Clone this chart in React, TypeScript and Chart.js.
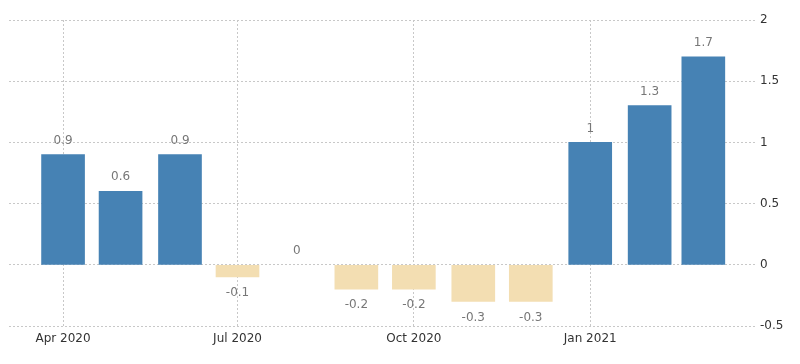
import React, { useEffect, useRef } from "react";
import { Chart, registerables } from "chart.js";

Chart.register(...registerables);

const months = ["2020-04", "2020-05", "2020-06", "2020-07", "2020-08", "2020-09", "2020-10", "2020-11", "2020-12", "2021-01", "2021-02", "2021-03"];
const values = [0.9, 0.6, 0.9, -0.1, 0, -0.2, -0.2, -0.3, -0.3, 1, 1.3, 1.7];
const tickMonths = ["2020-04", "2020-07", "2020-10", "2021-01"];
const tickLabels = ["Apr 2020", "Jul 2020", "Oct 2020", "Jan 2021"];
const yTicks = [-0.5, 0, 0.5, 1, 1.5, 2];

const BASE = Date.UTC(2020, 3, 1);
const dayOf = (m: string) => {
  const [y, mo] = m.split("-").map(Number);
  return (Date.UTC(y, mo - 1, 1) - BASE) / 86400000;
};

const POS = "#4682b4";
const NEG = "#f3deb2";

const labelPlugin = {
  id: "valueLabels",
  afterDatasetsDraw(chart: any) {
    const ctx = chart.ctx;
    const meta = chart.getDatasetMeta(0);
    ctx.save();
    ctx.font = "12px 'DejaVu Sans'";
    ctx.fillStyle = "#777777";
    ctx.textAlign = "center";
    meta.data.forEach((bar: any, i: number) => {
      const v = values[i];
      const label = String(v);
      if (v >= 0) {
        ctx.textBaseline = "bottom";
        ctx.fillText(label, bar.x, bar.y - 8);
      } else {
        ctx.textBaseline = "top";
        ctx.fillText(label, bar.x, bar.y + 10);
      }
    });
    ctx.restore();
  },
};

export default function App() {
  const ref = useRef<HTMLCanvasElement>(null);
  useEffect(() => {
    if (!ref.current) return;
    const data = months.map((m, i) => ({ x: dayOf(m), y: values[i] }));
    const tickDays = tickMonths.map(dayOf);
    const chart = new Chart(ref.current, {
      type: "bar",
      data: {
        datasets: [
          {
            data,
            backgroundColor: values.map((v) => (v > 0 ? POS : v < 0 ? NEG : "rgba(0,0,0,0)")),
            borderWidth: 0,
            barThickness: 43,
          },
        ],
      },
      options: {
        animation: false,
        responsive: false,
        maintainAspectRatio: false,
        layout: { padding: { left: 9, top: 20, right: 0, bottom: 0 } },
        plugins: { legend: { display: false }, tooltip: { enabled: false } },
        scales: {
          x: {
            type: "linear",
            offset: false,
            min: -28.2,
            max: 362,
            afterBuildTicks: (scale: any) => {
              scale.ticks = tickDays.map((v) => ({ value: v }));
            },
            afterFit: (scale: any) => {
              scale.height = 38;
            },
            ticks: {
              autoSkip: false,
              maxRotation: 0,
              padding: 6,
              color: "#333333",
              font: { family: "'DejaVu Sans'", size: 12 },
              callback: (_v: any, i: number) => tickLabels[i],
            },
            grid: { color: "#c8c8c8", drawTicks: false, offset: false },
            border: { display: false, dash: [2, 2] },
          },
          y: {
            position: "right",
            min: -0.5,
            max: 2,
            afterBuildTicks: (scale: any) => {
              scale.ticks = yTicks.map((v) => ({ value: v }));
            },
            afterFit: (scale: any) => {
              scale.width = 43;
            },
            ticks: {
              padding: 3,
              color: "#333333",
              font: { family: "'DejaVu Sans'", size: 12 },
              callback: (v: any) => String(v),
            },
            grid: { color: "#c8c8c8", drawTicks: false },
            border: { display: false, dash: [2, 2] },
          },
        },
      },
      plugins: [labelPlugin],
    });
    return () => chart.destroy();
  }, []);
  return (
    <div style={{ position: "absolute", left: 0, top: 0, width: 800, height: 364, background: "#fff" }}>
      <canvas ref={ref} width={800} height={364} style={{ width: 800, height: 364 }} />
    </div>
  );
}
